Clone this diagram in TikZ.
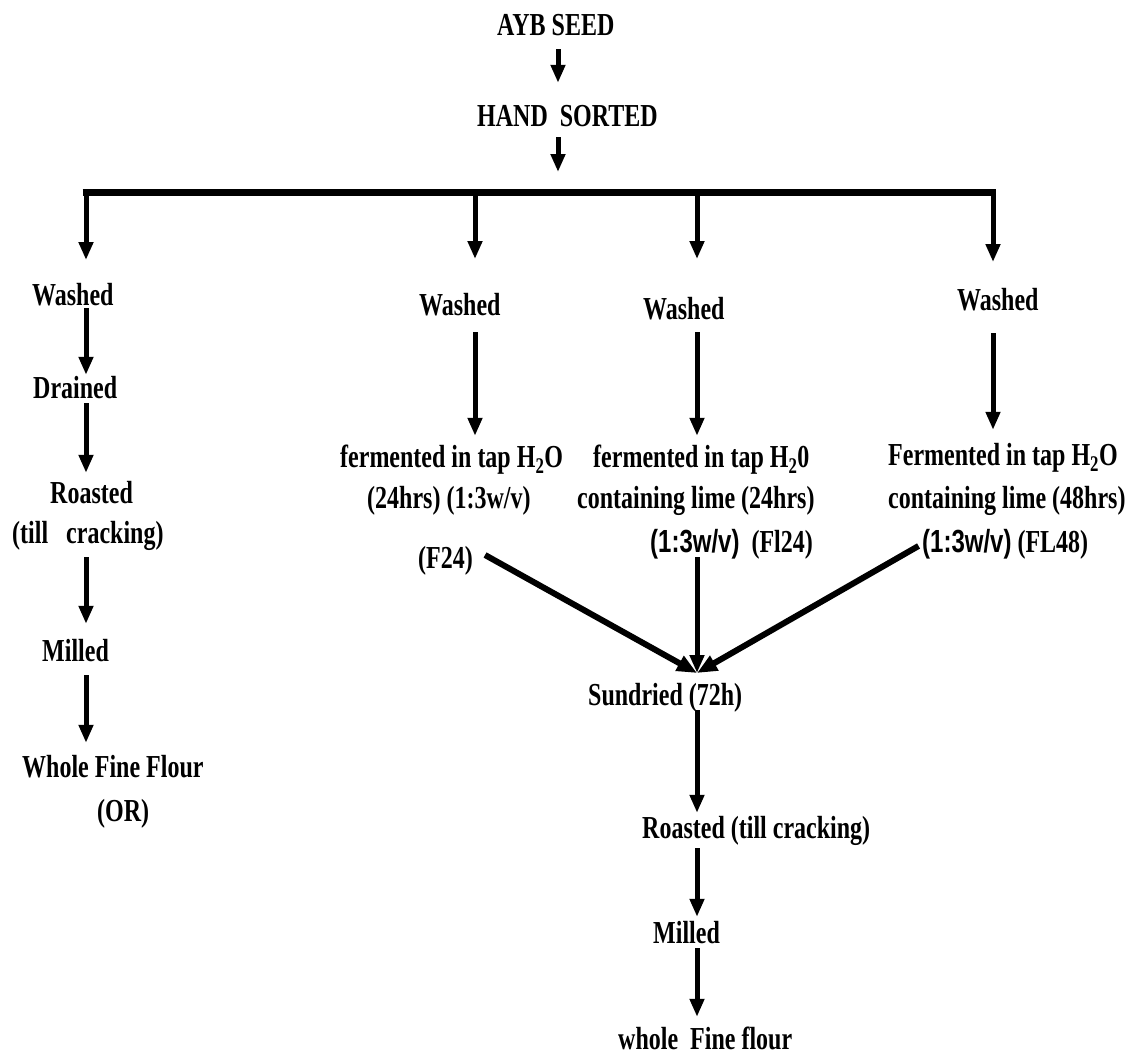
\documentclass[tikz,border=0pt]{standalone}
\usepackage{fontspec}
\newfontfamily\tnr{Liberation Serif}[FakeStretch=0.75]
\newfontfamily\ars{Liberation Sans}[FakeStretch=0.75]
\usetikzlibrary{arrows.meta}
\begin{document}
\begin{tikzpicture}[x=1pt,y=-1pt,
  lbl/.style={inner sep=0pt, text height=22pt, text depth=6pt,
    font=\tnr\bfseries\fontsize{32}{40}\selectfont, anchor=base west},
  arr/.style={line width=5pt, -{Triangle[width=14pt,length=18pt]}},
  diag/.style={line width=6pt, -{Triangle[width=16pt,length=20pt]}},
  barline/.style={line width=7pt}]
\useasboundingbox (0,0) rectangle (1143,1055);
% column coordinates
\coordinate (c1) at (558,0);
\coordinate (cL) at (86,0);
\coordinate (cB) at (475,0);
\coordinate (cC) at (697,0);
\coordinate (cD) at (993,0);
% texts
\node[lbl] (seed) at (497,35) {AYB SEED};
\node[lbl] (hand) at (477,126) {HAND\ \ SORTED};
\node[lbl] (wA) at (32,305) {Washed};
\node[lbl] (drA) at (33,398) {Drained};
\node[lbl] (roA) at (50,503) {Roasted};
\node[lbl] (tcA) at (12,543) {(till\ \ \ cracking)};
\node[lbl] (miA) at (42,661) {Milled};
\node[lbl] (wfA) at (22,777) {Whole Fine Flour};
\node[lbl] (orA) at (97,821) {(OR)};
\node[lbl] (wB) at (419,315) {Washed};
\node[lbl] (wC) at (643,319) {Washed};
\node[lbl] (wD) at (957,310) {Washed};
\node[lbl] (b1a) at (340,467) {fermented in tap H\textsubscript{2}O};
\node[lbl] (b1b) at (367,508) {(24hrs) (1:3w/v)};
\node[lbl] (f24) at (418,568) {(F24)};
\node[lbl] (b2a) at (593,467) {fermented in tap H\textsubscript{2}0};
\node[lbl] (b2b) at (577,508) {containing lime (24hrs)};
\node[lbl] (l2) at (650,552) {{\ars (1:3w/v)}\ \ (Fl24)};
\node[lbl] (b3a) at (888,465) {Fermented in tap H\textsubscript{2}O};
\node[lbl] (b3b) at (888,508) {containing lime (48hrs)};
\node[lbl] (l3) at (922,552) {{\ars (1:3w/v)} (FL48)};
\node[lbl] (sd) at (588,705) {Sundried (72h)};
\node[lbl] (ro2) at (642,838) {Roasted (till cracking)};
\node[lbl] (mi2) at (653,943) {Milled};
\node[lbl, text depth=2pt] (wf2) at (618,1049) {whole\ \ Fine flour};
% bar and drops
\coordinate (barL) at (82.5,192);
\coordinate (barR) at (995.5,192);
\coordinate (barT) at (558,192);
\coordinate (dL) at (86,192);
\coordinate (dB) at (475,192);
\coordinate (dC) at (697,192);
\coordinate (dD) at (993,192);
\coordinate (tL) at (86,260);
\coordinate (tB) at (475,259);
\coordinate (tC) at (697,259);
\coordinate (tD) at (993,262);
\coordinate (conv) at (697,673);
\draw[barline] (barL) -- (barR);
\draw[arr] (dL) -- (tL);
\draw[arr] (dB) -- (tB);
\draw[arr] (dC) -- (tC);
\draw[arr] (dD) -- (tD);
% top
\draw[arr, shorten <=8pt, shorten >=21pt] (seed.south -| c1) -- (hand.north -| c1);
\draw[arr, shorten <=5pt, shorten >=20pt] (hand.south -| c1) -- (barT);
% left column
\draw[arr, shorten <=-3pt, shorten >=1pt] (wA.south -| cL) -- (drA.north -| cL);
\draw[arr, shorten <=-1pt, shorten >=8pt] (drA.south -| cL) -- (roA.north -| cL);
\draw[arr, shorten <=8pt, shorten >=15pt] (tcA.south -| cL) -- (miA.north -| cL);
\draw[arr, shorten <=8pt, shorten >=12pt] (miA.south -| cL) -- (wfA.north -| cL);
% middle columns
\draw[arr, shorten <=11pt, shorten >=9pt] (wB.south -| cB) -- (b1a.north -| cB);
\draw[arr, shorten <=7pt, shorten >=9pt] (wC.south -| cC) -- (b2a.north -| cC);
\draw[arr, shorten <=17pt, shorten >=13pt] (wD.south -| cD) -- (b3a.north -| cD);
% convergence
\draw[diag] ([xshift=12pt,yshift=5pt]f24.east) -- (conv);
\draw[arr, shorten <=-1pt] (l2.south -| cC) -- (conv);
\draw[diag, shorten <=4pt] (l3.west) -- (conv);
% lower column
\draw[arr, shorten <=-1pt, shorten >=3pt] (sd.south -| cC) -- (ro2.north -| cC);
\draw[arr, shorten <=4pt, shorten >=4pt] (ro2.south -| cC) -- (mi2.north -| cC);
\draw[arr, shorten <=-1pt, shorten >=10pt] (mi2.south -| cC) -- (wf2.north -| cC);
\end{tikzpicture}
\end{document}
